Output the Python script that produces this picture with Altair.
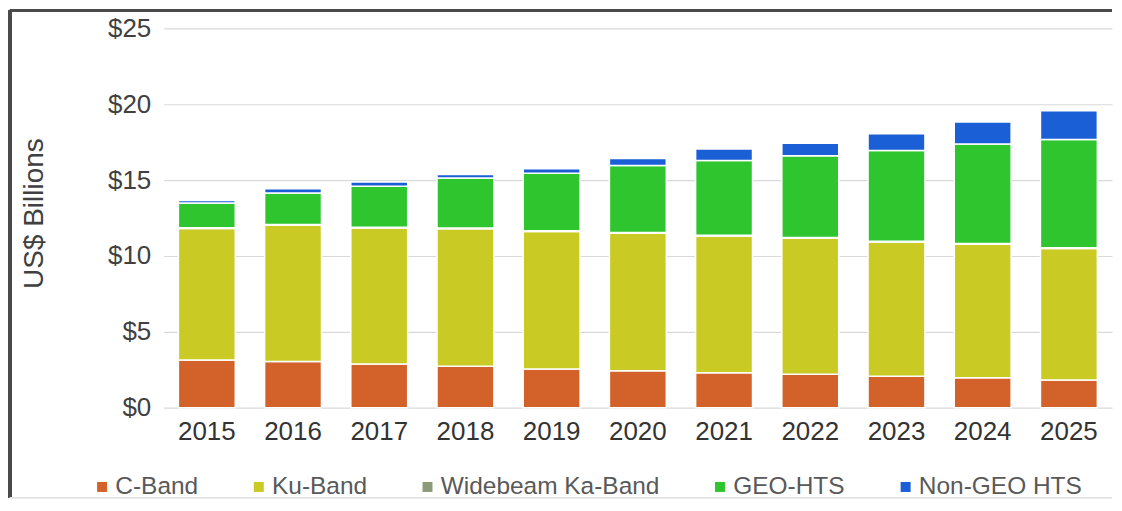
import altair as alt
import pandas as pd

years = ["2015", "2016", "2017", "2018", "2019", "2020", "2021", "2022", "2023", "2024", "2025"]
series = ["C-Band", "Ku-Band", "Widebeam Ka-Band", "GEO-HTS", "Non-GEO HTS"]
colors = ["#D2622A", "#C9CB24", "#8C9A78", "#2EC52E", "#1A5FD6"]

c_band = [3.15, 3.05, 2.88, 2.74, 2.55, 2.43, 2.31, 2.20, 2.07, 1.98, 1.82]
ku_band = [8.67, 8.97, 8.97, 9.06, 9.07, 9.07, 9.01, 8.97, 8.86, 8.79, 8.68]
widebeam_ka = [0.05, 0.05, 0.05, 0.05, 0.05, 0.05, 0.05, 0.05, 0.05, 0.05, 0.05]
geo_hts = [1.63, 2.08, 2.70, 3.29, 3.78, 4.41, 4.92, 5.38, 5.97, 6.56, 7.12]
non_geo_hts = [0.16, 0.28, 0.28, 0.23, 0.30, 0.47, 0.77, 0.83, 1.11, 1.45, 1.90]

values = [c_band, ku_band, widebeam_ka, geo_hts, non_geo_hts]
rows = []
for si, (name, vals) in enumerate(zip(series, values)):
    for y, v in zip(years, vals):
        rows.append({"Year": y, "Segment": name, "Value": v, "order": si})
df = pd.DataFrame(rows)

FONT = "Liberation Sans"

bars = alt.Chart(df).mark_bar(stroke="white", strokeWidth=1.5).encode(
    x=alt.X("Year:N", sort=years,
            scale=alt.Scale(paddingInner=0.34, paddingOuter=0.17),
            axis=alt.Axis(title=None, labelAngle=0, labelFontSize=26, labelColor="#333333",
                          labelFont=FONT, labelPadding=11, ticks=False, domain=False, grid=False)),
    y=alt.Y("sum(Value):Q", stack="zero",
            scale=alt.Scale(domain=[0, 25], nice=False),
            axis=alt.Axis(title="US$ Billions", values=[0, 5, 10, 15, 20, 25],
                          labelExpr="'$' + datum.value", labelFontSize=26, labelColor="#404040",
                          labelFont=FONT, labelPadding=13, ticks=False, domain=False,
                          grid=True, gridColor="#d9d9d9", gridWidth=1.2,
                          titleFont=FONT, titleFontSize=28, titleFontWeight="normal",
                          titleColor="#404040", titlePadding=59, titleY=185)),
    color=alt.Color("Segment:N", sort=series,
                    scale=alt.Scale(domain=series, range=colors),
                    legend=alt.Legend(title=None, orient="none", legendX=-74, legendY=447,
                                      direction="horizontal", columns=5, symbolType="square",
                                      symbolSize=100, symbolStrokeWidth=0, labelFont=FONT,
                                      labelFontSize=24.5, labelColor="#595959", labelOffset=1,
                                      labelLimit=400, columnPadding=48)),
    order=alt.Order("order:Q", sort="ascending"),
)

frame_top = alt.Chart(df).mark_rule(color="#4a4a4a", strokeWidth=3).encode(
    x=alt.value(-154), x2=alt.value(950), y=alt.value(-18))
frame_left = alt.Chart(df).mark_rule(color="#4a4a4a", strokeWidth=3).encode(
    x=alt.value(-154), y=alt.value(-18), y2=alt.value(470))
frame_bottom = alt.Chart(df).mark_rule(color="#e2e2e2", strokeWidth=1).encode(
    x=alt.value(-154), x2=alt.value(950), y=alt.value(470))

chart = alt.layer(bars, frame_top, frame_left, frame_bottom).properties(
    width=950, height=380, padding=0, background="white"
).configure_view(stroke=None)

chart.save("out.html", embed_options={"renderer": "svg", "actions": False})
